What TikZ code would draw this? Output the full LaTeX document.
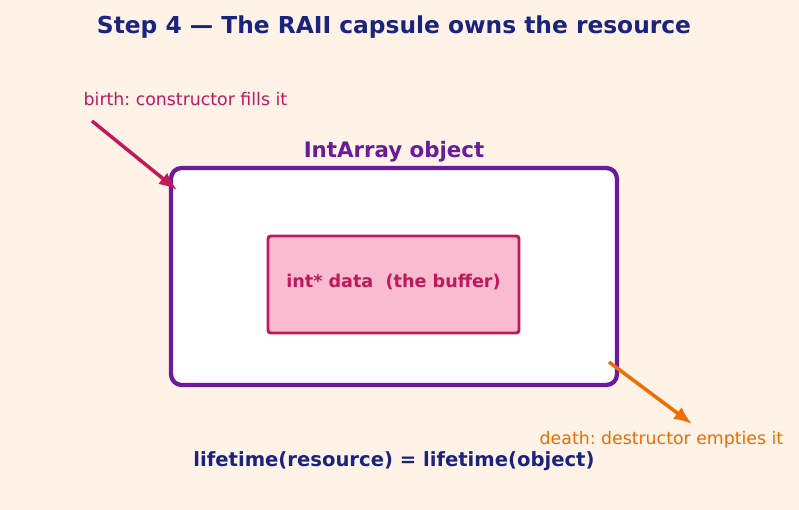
\documentclass[tikz,border=0pt]{standalone}
\usepackage{fontspec}
\setmainfont{DejaVu Sans}
\usetikzlibrary{arrows.meta}
\frenchspacing
\definecolor{bgcream}{HTML}{FFF2E6}
\definecolor{navy}{HTML}{1A237E}
\definecolor{capsulepurple}{HTML}{6A1B9A}
\definecolor{bufferpink}{HTML}{C2185B}
\definecolor{bufferfill}{HTML}{F8BBD0}
\definecolor{deathorange}{HTML}{EF6C00}

\begin{document}
\begin{tikzpicture}[x=0.75pt,y=-0.75pt,line width=2.6pt,>={Latex[length=4.8mm,width=3.8mm]}]
  % fondo
  \fill[bgcream] (0,0) rectangle (799,510);
  \useasboundingbox (0,0) rectangle (799,510);
  % titulo
  \node[navy,font=\fontsize{17.5}{20}\selectfont\bfseries] (title) at (394,27) {Step 4 — The RAII capsule owns the resource};
  % capsula RAII
  \node[draw=capsulepurple,line width=3.2pt,fill=white,rounded corners=8pt,
        minimum width=446*0.75pt,minimum height=217*0.75pt] (capsule) at (394,276.5) {};
  \node[capsulepurple,font=\fontsize{16}{19}\selectfont\bfseries] (capsulelabel) at (394,152) {IntArray object};
  % buffer
  \node[draw=bufferpink,line width=2.2pt,fill=bufferfill,rounded corners=2pt,
        minimum width=251*0.75pt,minimum height=97*0.75pt] (buffer) at (393.5,284.5) {};
  \node[text=bufferpink,font=\fontsize{13.2}{15}\selectfont\bfseries] (bufferlabel) at (393.5,281.5) {int* data\ \ (the buffer)};
  % nacimiento
  \node[bufferpink,font=\fontsize{13}{15}\selectfont,anchor=west,inner sep=0pt] (birth) at (82,99.5) {birth: constructor fills it};
  \coordinate (birthstart) at (92,121);
  \coordinate (birthend) at (177,190);
  \draw[->,bufferpink] (birthstart) -- (birthend);
  % muerte
  \coordinate (deathstart) at (609,362);
  \coordinate (deathend) at (692,424);
  \draw[->,deathorange] (deathstart) -- (deathend);
  \node[deathorange,font=\fontsize{13}{15}\selectfont] (death) at (661.5,439.5) {death: destructor empties it};
  % tiempo de vida
  \node[navy,font=\fontsize{14.7}{17}\selectfont\bfseries] (lifetime) at (394,461.5) {lifetime(resource) = lifetime(object)};
\end{tikzpicture}
\end{document}
